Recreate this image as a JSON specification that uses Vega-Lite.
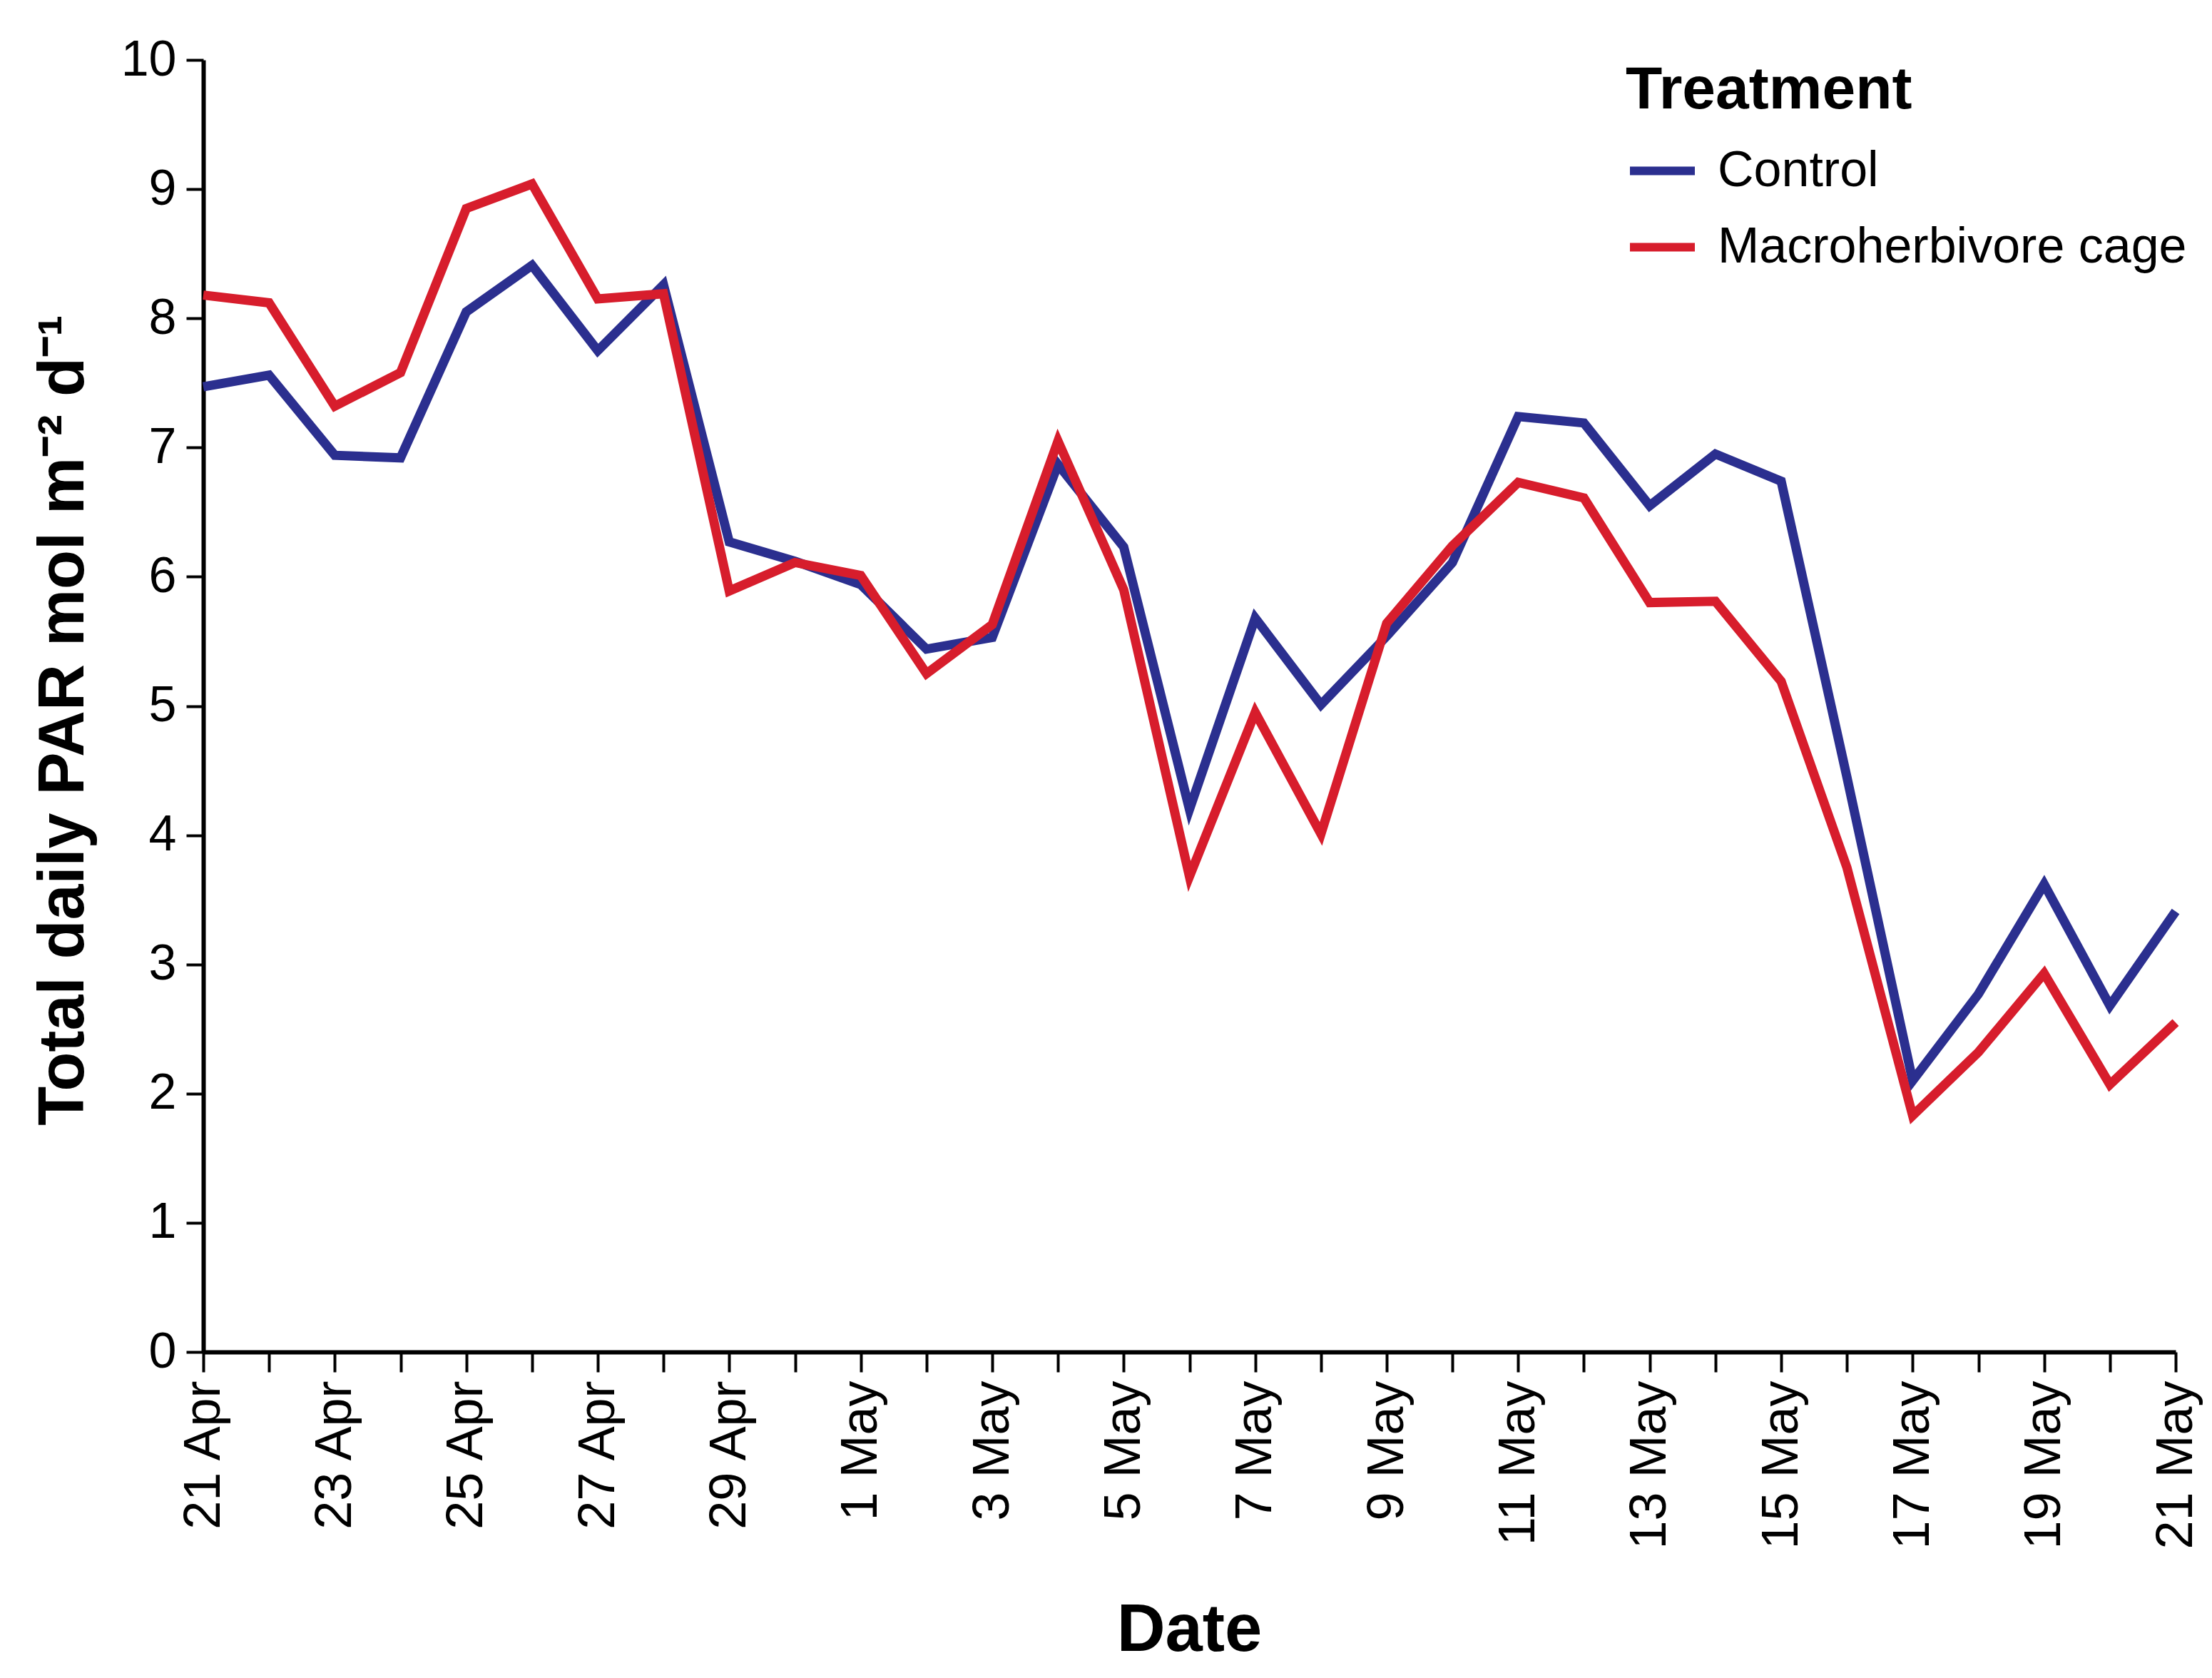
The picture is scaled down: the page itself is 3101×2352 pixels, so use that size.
{
  "$schema": "https://vega.github.io/schema/vega-lite/v6.json",
  "autosize": "none",
  "width": 2765,
  "height": 1811,
  "padding": {"left": 285, "top": 84, "right": 51, "bottom": 457},
  "background": "white",
  "config": {
    "view": {"stroke": null},
    "font": "Liberation Sans",
    "axis": {"grid": false, "domainColor": "black", "tickColor": "black", "labelColor": "black", "titleColor": "black", "labelLimit": 2000, "titleLimit": 3000}
  },
  "data": {
    "values": [
      {"date": "2013-04-21", "treatment": "Control", "par": 7.47},
      {"date": "2013-04-22", "treatment": "Control", "par": 7.56},
      {"date": "2013-04-23", "treatment": "Control", "par": 6.94},
      {"date": "2013-04-24", "treatment": "Control", "par": 6.92},
      {"date": "2013-04-25", "treatment": "Control", "par": 8.05},
      {"date": "2013-04-26", "treatment": "Control", "par": 8.41},
      {"date": "2013-04-27", "treatment": "Control", "par": 7.75},
      {"date": "2013-04-28", "treatment": "Control", "par": 8.26},
      {"date": "2013-04-29", "treatment": "Control", "par": 6.27},
      {"date": "2013-04-30", "treatment": "Control", "par": 6.12},
      {"date": "2013-05-01", "treatment": "Control", "par": 5.94},
      {"date": "2013-05-02", "treatment": "Control", "par": 5.44},
      {"date": "2013-05-03", "treatment": "Control", "par": 5.53},
      {"date": "2013-05-04", "treatment": "Control", "par": 6.87},
      {"date": "2013-05-05", "treatment": "Control", "par": 6.23},
      {"date": "2013-05-06", "treatment": "Control", "par": 4.20},
      {"date": "2013-05-07", "treatment": "Control", "par": 5.68},
      {"date": "2013-05-08", "treatment": "Control", "par": 5.01},
      {"date": "2013-05-09", "treatment": "Control", "par": 5.54},
      {"date": "2013-05-10", "treatment": "Control", "par": 6.11},
      {"date": "2013-05-11", "treatment": "Control", "par": 7.24},
      {"date": "2013-05-12", "treatment": "Control", "par": 7.19},
      {"date": "2013-05-13", "treatment": "Control", "par": 6.55},
      {"date": "2013-05-14", "treatment": "Control", "par": 6.95},
      {"date": "2013-05-15", "treatment": "Control", "par": 6.74},
      {"date": "2013-05-16", "treatment": "Control", "par": 4.45},
      {"date": "2013-05-17", "treatment": "Control", "par": 2.10},
      {"date": "2013-05-18", "treatment": "Control", "par": 2.77},
      {"date": "2013-05-19", "treatment": "Control", "par": 3.62},
      {"date": "2013-05-20", "treatment": "Control", "par": 2.68},
      {"date": "2013-05-21", "treatment": "Control", "par": 3.41},
      {"date": "2013-04-21", "treatment": "Macroherbivore cage", "par": 8.18},
      {"date": "2013-04-22", "treatment": "Macroherbivore cage", "par": 8.12},
      {"date": "2013-04-23", "treatment": "Macroherbivore cage", "par": 7.32},
      {"date": "2013-04-24", "treatment": "Macroherbivore cage", "par": 7.58},
      {"date": "2013-04-25", "treatment": "Macroherbivore cage", "par": 8.85},
      {"date": "2013-04-26", "treatment": "Macroherbivore cage", "par": 9.04},
      {"date": "2013-04-27", "treatment": "Macroherbivore cage", "par": 8.15},
      {"date": "2013-04-28", "treatment": "Macroherbivore cage", "par": 8.19},
      {"date": "2013-04-29", "treatment": "Macroherbivore cage", "par": 5.89},
      {"date": "2013-04-30", "treatment": "Macroherbivore cage", "par": 6.11},
      {"date": "2013-05-01", "treatment": "Macroherbivore cage", "par": 6.01},
      {"date": "2013-05-02", "treatment": "Macroherbivore cage", "par": 5.25},
      {"date": "2013-05-03", "treatment": "Macroherbivore cage", "par": 5.63},
      {"date": "2013-05-04", "treatment": "Macroherbivore cage", "par": 7.05},
      {"date": "2013-05-05", "treatment": "Macroherbivore cage", "par": 5.90},
      {"date": "2013-05-06", "treatment": "Macroherbivore cage", "par": 3.68},
      {"date": "2013-05-07", "treatment": "Macroherbivore cage", "par": 4.95},
      {"date": "2013-05-08", "treatment": "Macroherbivore cage", "par": 4.01},
      {"date": "2013-05-09", "treatment": "Macroherbivore cage", "par": 5.64},
      {"date": "2013-05-10", "treatment": "Macroherbivore cage", "par": 6.24},
      {"date": "2013-05-11", "treatment": "Macroherbivore cage", "par": 6.73},
      {"date": "2013-05-12", "treatment": "Macroherbivore cage", "par": 6.61},
      {"date": "2013-05-13", "treatment": "Macroherbivore cage", "par": 5.80},
      {"date": "2013-05-14", "treatment": "Macroherbivore cage", "par": 5.81},
      {"date": "2013-05-15", "treatment": "Macroherbivore cage", "par": 5.19},
      {"date": "2013-05-16", "treatment": "Macroherbivore cage", "par": 3.75},
      {"date": "2013-05-17", "treatment": "Macroherbivore cage", "par": 1.83},
      {"date": "2013-05-18", "treatment": "Macroherbivore cage", "par": 2.32},
      {"date": "2013-05-19", "treatment": "Macroherbivore cage", "par": 2.93},
      {"date": "2013-05-20", "treatment": "Macroherbivore cage", "par": 2.07},
      {"date": "2013-05-21", "treatment": "Macroherbivore cage", "par": 2.55}
    ]
  },
  "mark": {"type": "line", "strokeWidth": 13, "strokeJoin": "miter"},
  "encoding": {
    "x": {
      "field": "date",
      "type": "temporal",
      "scale": {"type": "utc", "domain": ["2013-04-21", "2013-05-21"], "nice": false},
      "axis": {
        "title": "Date",
        "titleFontSize": 94,
        "titleFontWeight": "bold",
        "titleX": 1382,
        "titleY": 390,
        "titleBaseline": "middle",
        "titleAlign": "center",
        "tickCount": {"interval": "day", "step": 1},
        "labelExpr": "utcdate(datum.value) % 2 == 1 ? utcFormat(datum.value, '%-d %b') : ''",
        "labelAngle": -90,
        "labelFontSize": 72,
        "labelPadding": 12,
        "labelOverlap": false,
        "labelFlush": false,
        "tickSize": 28,
        "tickWidth": 4,
        "domainWidth": 6
      }
    },
    "y": {
      "field": "par",
      "type": "quantitative",
      "scale": {"domain": [0, 10], "nice": false},
      "axis": {
        "title": "Total daily PAR mol m⁻² d⁻¹",
        "titleFontSize": 90,
        "titleFontWeight": "bold",
        "titleX": -196,
        "titleY": 925,
        "titleAngle": -90,
        "titleBaseline": "middle",
        "titleAlign": "center",
        "values": [0, 1, 2, 3, 4, 5, 6, 7, 8, 9, 10],
        "labelFontSize": 70,
        "labelPadding": 14,
        "tickSize": 24,
        "tickWidth": 4,
        "domainWidth": 6
      }
    },
    "color": {
      "field": "treatment",
      "type": "nominal",
      "scale": {"domain": ["Control", "Macroherbivore cage"], "range": ["#2b2f8f", "#d71d2c"]},
      "legend": {
        "title": "Treatment",
        "titleFontSize": 84,
        "titleFontWeight": "bold",
        "titlePadding": 18,
        "titleLimit": 2000,
        "labelLimit": 2000,
        "labelFontSize": 70,
        "labelOffset": 26,
        "symbolType": "stroke",
        "symbolSize": 8281,
        "symbolStrokeWidth": 12,
        "rowPadding": 20,
        "padding": 0,
        "orient": "none",
        "legendX": 1994,
        "legendY": 2
      }
    }
  }
}
